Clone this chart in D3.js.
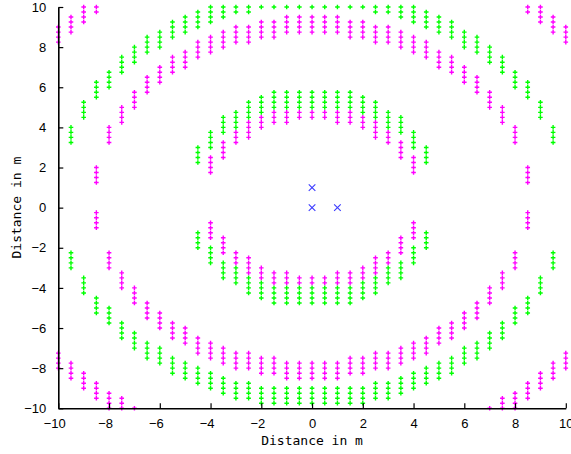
<!DOCTYPE html>
<html>
<head>
<meta charset="utf-8">
<script src="https://cdn.jsdelivr.net/npm/d3@7"></script>
<style>
  body { margin: 0; background: #fff; }
  text { font-family: "Liberation Sans", Arial, sans-serif; }
</style>
</head>
<body>
<svg id="chart" width="571" height="454"></svg>
<script>
// ---- data ----------------------------------------------------------
const xTicks = [-10, -8, -6, -4, -2, 0, 2, 4, 6, 8, 10];
const yTicks = [-10, -8, -6, -4, -2, 0, 2, 4, 6, 8, 10];

// green points, one entry per column: [x, [y values]]
const greenCols = [
  [-9.5, [4, 3.75, 3.5, 3.25, -2.25, -2.5, -2.75, -3]],
  [-9,   [5.25, 5, 4.75, 4.5, -3.5, -3.75, -4, -4.25]],
  [-8.5, [6.25, 6, 5.75, 5.5, -4.5, -4.75, -5, -5.25]],
  [-8,   [6.75, 6.5, 6.25, 6, -5, -5.25, -5.5, -5.75]],
  [-7.5, [7.5, 7.25, 7, 6.75, -5.75, -6, -6.25, -6.5]],
  [-7,   [8, 7.75, 7.5, 7.25, -6.25, -6.5, -6.75, -7]],
  [-6.5, [8.5, 8.25, 8, 7.75, -6.75, -7, -7.25, -7.5]],
  [-6,   [8.75, 8.5, 8.25, 8, -7, -7.25, -7.5, -7.75]],
  [-5.5, [9.25, 9, 8.75, 8.5, -7.5, -7.75, -8, -8.25]],
  [-5,   [9.5, 9.25, 9, 8.75, -7.75, -8, -8.25, -8.5]],
  [-4.5, [9.75, 9.5, 9.25, 9, 3, 2.75, 2.5, 2.25, -1.25, -1.5, -1.75, -2, -8, -8.25, -8.5, -8.75]],
  [-4,   [10, 9.75, 9.5, 9.25, 3.75, 3.5, 3.25, 3, -2, -2.25, -2.5, -2.75, -8.25, -8.5, -8.75, -9]],
  [-3.5, [10, 9.75, 9.5, 4.5, 4.25, 4, 3.75, -2.75, -3, -3.25, -3.5, -8.5, -8.75, -9, -9.25]],
  [-3,   [10, 9.75, 4.75, 4.5, 4.25, 4, -3, -3.25, -3.5, -3.75, -8.75, -9, -9.25, -9.5]],
  [-2.5, [10, 9.75, 5.25, 5, 4.75, 4.5, -3.5, -3.75, -4, -4.25, -8.75, -9, -9.25, -9.5]],
  [-2,   [10, 5.5, 5.25, 5, 4.75, -3.75, -4, -4.25, -4.5, -9, -9.25, -9.5, -9.75]],
  [-1.5, [10, 5.75, 5.5, 5.25, 5, -4, -4.25, -4.5, -4.75, -9, -9.25, -9.5, -9.75]],
  [-1,   [10, 5.75, 5.5, 5.25, 5, -4, -4.25, -4.5, -4.75, -9, -9.25, -9.5, -9.75]],
  [-0.5, [10, 5.75, 5.5, 5.25, 5, -4, -4.25, -4.5, -4.75, -9, -9.25, -9.5, -9.75]],
  [0,    [10, 5.75, 5.5, 5.25, 5, -4, -4.25, -4.5, -4.75, -9, -9.25, -9.5, -9.75]],
  [0.5,  [10, 5.75, 5.5, 5.25, 5, -4, -4.25, -4.5, -4.75, -9, -9.25, -9.5, -9.75]],
  [1,    [10, 5.75, 5.5, 5.25, 5, -4, -4.25, -4.5, -4.75, -9, -9.25, -9.5, -9.75]],
  [1.5,  [10, 5.75, 5.5, 5.25, 5, -4, -4.25, -4.5, -4.75, -9, -9.25, -9.5, -9.75]],
  [2,    [10, 5.5, 5.25, 5, 4.75, -3.75, -4, -4.25, -4.5, -9, -9.25, -9.5, -9.75]],
  [2.5,  [10, 9.75, 5.25, 5, 4.75, 4.5, -3.5, -3.75, -4, -4.25, -8.75, -9, -9.25, -9.5]],
  [3,    [10, 9.75, 4.75, 4.5, 4.25, 4, -3, -3.25, -3.5, -3.75, -8.75, -9, -9.25, -9.5]],
  [3.5,  [10, 9.75, 9.5, 4.5, 4.25, 4, 3.75, -2.75, -3, -3.25, -3.5, -8.5, -8.75, -9, -9.25]],
  [4,    [10, 9.75, 9.5, 9.25, 3.75, 3.5, 3.25, 3, -2, -2.25, -2.5, -2.75, -8.25, -8.5, -8.75, -9]],
  [4.5,  [9.75, 9.5, 9.25, 9, 3, 2.75, 2.5, 2.25, -1.25, -1.5, -1.75, -2, -8, -8.25, -8.5, -8.75]],
  [5,    [9.5, 9.25, 9, 8.75, -7.75, -8, -8.25, -8.5]],
  [5.5,  [9.25, 9, 8.75, 8.5, -7.5, -7.75, -8, -8.25]],
  [6,    [8.75, 8.5, 8.25, 8, -7, -7.25, -7.5, -7.75]],
  [6.5,  [8.5, 8.25, 8, 7.75, -6.75, -7, -7.25, -7.5]],
  [7,    [8, 7.75, 7.5, 7.25, -6.25, -6.5, -6.75, -7]],
  [7.5,  [7.5, 7.25, 7, 6.75, -5.75, -6, -6.25, -6.5]],
  [8,    [6.75, 6.5, 6.25, 6, -5, -5.25, -5.5, -5.75]],
  [8.5,  [6.25, 6, 5.75, 5.5, -4.5, -4.75, -5, -5.25]],
  [9,    [5.25, 5, 4.75, 4.5, -3.5, -3.75, -4, -4.25]],
  [9.5,  [4, 3.75, 3.5, 3.25, -2.25, -2.5, -2.75, -3]]
];

// magenta points, one entry per column: [x, [y values]]
const magentaCols = [
  [-10,  [9, 8.75, 8.5, 8.25, -7.25, -7.5, -7.75, -8]],
  [-9.5, [9.5, 9.25, 9, 8.75, -7.75, -8, -8.25, -8.5]],
  [-9,   [10, 9.75, 9.5, 9.25, -8.25, -8.5, -8.75, -9]],
  [-8.5, [10, 9.75, 2, 1.75, 1.5, 1.25, -0.25, -0.5, -0.75, -1, -8.75, -9, -9.25, -9.5]],
  [-8,   [4, 3.75, 3.5, 3.25, -2.25, -2.5, -2.75, -3, -9.25, -9.5, -9.75, -10]],
  [-7.5, [5, 4.75, 4.5, 4.25, -3.25, -3.5, -3.75, -4, -9.5, -9.75, -10]],
  [-7,   [5.75, 5.5, 5.25, 5, -4, -4.25, -4.5, -4.75, -10]],
  [-6.5, [6.5, 6.25, 6, 5.75, -4.75, -5, -5.25, -5.5]],
  [-6,   [7, 6.75, 6.5, 6.25, -5.25, -5.5, -5.75, -6]],
  [-5.5, [7.5, 7.25, 7, 6.75, -5.75, -6, -6.25, -6.5]],
  [-5,   [7.75, 7.5, 7.25, 7, -6, -6.25, -6.5, -6.75]],
  [-4.5, [8.25, 8, 7.75, 7.5, -6.5, -6.75, -7, -7.25]],
  [-4,   [8.5, 8.25, 8, 7.75, 2.5, 2.25, 2, 1.75, -0.75, -1, -1.25, -1.5, -6.75, -7, -7.25, -7.5]],
  [-3.5, [8.75, 8.5, 8.25, 8, 3.25, 3, 2.75, 2.5, -1.5, -1.75, -2, -2.25, -7, -7.25, -7.5, -7.75]],
  [-3,   [9, 8.75, 8.5, 8.25, 3.75, 3.5, 3.25, -2.25, -2.5, -2.75, -7.25, -7.5, -7.75, -8]],
  [-2.5, [9, 8.75, 8.5, 8.25, 4.25, 4, 3.75, 3.5, -2.5, -2.75, -3, -3.25, -7.25, -7.5, -7.75, -8]],
  [-2,   [9.25, 9, 8.75, 8.5, 4.5, 4.25, 4, -3, -3.25, -3.5, -7.5, -7.75, -8, -8.25]],
  [-1.5, [9.25, 9, 8.75, 8.5, 4.75, 4.5, 4.25, -3.25, -3.5, -3.75, -7.5, -7.75, -8, -8.25]],
  [-1,   [9.5, 9.25, 9, 8.75, 4.75, 4.5, 4.25, -3.25, -3.5, -3.75, -7.75, -8, -8.25, -8.5]],
  [-0.5, [9.5, 9.25, 9, 8.75, 4.75, 4.5, -3.5, -3.75, -7.75, -8, -8.25, -8.5]],
  [0,    [9.5, 9.25, 9, 8.75, 4.75, 4.5, -3.5, -3.75, -7.75, -8, -8.25, -8.5]],
  [0.5,  [9.5, 9.25, 9, 8.75, 4.75, 4.5, -3.5, -3.75, -7.75, -8, -8.25, -8.5]],
  [1,    [9.5, 9.25, 9, 8.75, 4.75, 4.5, 4.25, -3.25, -3.5, -3.75, -7.75, -8, -8.25, -8.5]],
  [1.5,  [9.25, 9, 8.75, 8.5, 4.75, 4.5, 4.25, -3.25, -3.5, -3.75, -7.5, -7.75, -8, -8.25]],
  [2,    [9.25, 9, 8.75, 8.5, 4.5, 4.25, 4, -3, -3.25, -3.5, -7.5, -7.75, -8, -8.25]],
  [2.5,  [9, 8.75, 8.5, 8.25, 4.25, 4, 3.75, 3.5, -2.5, -2.75, -3, -3.25, -7.25, -7.5, -7.75, -8]],
  [3,    [9, 8.75, 8.5, 8.25, 3.75, 3.5, 3.25, -2.25, -2.5, -2.75, -7.25, -7.5, -7.75, -8]],
  [3.5,  [8.75, 8.5, 8.25, 8, 3.25, 3, 2.75, 2.5, -1.5, -1.75, -2, -2.25, -7, -7.25, -7.5, -7.75]],
  [4,    [8.5, 8.25, 8, 7.75, 2.5, 2.25, 2, 1.75, -0.75, -1, -1.25, -1.5, -6.75, -7, -7.25, -7.5]],
  [4.5,  [8.25, 8, 7.75, 7.5, -6.5, -6.75, -7, -7.25]],
  [5,    [7.75, 7.5, 7.25, 7, -6, -6.25, -6.5, -6.75]],
  [5.5,  [7.5, 7.25, 7, 6.75, -5.75, -6, -6.25, -6.5]],
  [6,    [7, 6.75, 6.5, 6.25, -5.25, -5.5, -5.75, -6]],
  [6.5,  [6.5, 6.25, 6, 5.75, -4.75, -5, -5.25, -5.5]],
  [7,    [5.75, 5.5, 5.25, 5, -4, -4.25, -4.5, -4.75, -10]],
  [7.5,  [5, 4.75, 4.5, 4.25, -3.25, -3.5, -3.75, -4, -9.5, -9.75, -10]],
  [8,    [4, 3.75, 3.5, 3.25, -2.25, -2.5, -2.75, -3, -9.25, -9.5, -9.75, -10]],
  [8.5,  [10, 9.75, 2, 1.75, 1.5, 1.25, -0.25, -0.5, -0.75, -1, -8.75, -9, -9.25, -9.5]],
  [9,    [10, 9.75, 9.5, 9.25, -8.25, -8.5, -8.75, -9]],
  [9.5,  [9.5, 9.25, 9, 8.75, -7.75, -8, -8.25, -8.5]],
  [10,   [9, 8.75, 8.5, 8.25, -7.25, -7.5, -7.75, -8]]
];

// blue "x" markers
const sourceX = [0, 1, 0];
const sourceY = [0, 0, 1];

const xLabel = "Distance in m";
const yLabel = "Distance in m";

// ---- layout ---------------------------------------------------------
const width = 571, height = 454;
const margin = { top: 7, right: 5.2, bottom: 45.7, left: 58.3 };

const svg = d3.select("#chart");

const xScale = d3.scaleLinear()
  .domain([-10, 10])
  .range([margin.left, width - margin.right]);

const yScale = d3.scaleLinear()
  .domain([-10, 10])
  .range([height - margin.bottom, margin.top]);

const toPoints = cols => cols.flatMap(([x, ys]) => ys.map(y => ({ x, y })));

const plus = "M-2.3,0H2.3M0,-2.3V2.3";
const cross = "M-3.3,-3.3L3.3,3.3M-3.3,3.3L3.3,-3.3";

// ---- markers ----------------------------------------------------------
svg.append("g")
  .selectAll("path")
  .data(toPoints(greenCols))
  .join("path")
  .attr("d", plus)
  .attr("transform", d => `translate(${xScale(d.x)},${yScale(d.y)})`)
  .attr("stroke", "#00ff00")
  .attr("stroke-width", 1.4)
  .attr("fill", "none");

svg.append("g")
  .selectAll("path")
  .data(toPoints(magentaCols))
  .join("path")
  .attr("d", plus)
  .attr("transform", d => `translate(${xScale(d.x)},${yScale(d.y)})`)
  .attr("stroke", "#ff00ff")
  .attr("stroke-width", 1.4)
  .attr("fill", "none");

svg.append("g")
  .selectAll("path")
  .data(sourceX.map((x, i) => ({ x, y: sourceY[i] })))
  .join("path")
  .attr("d", cross)
  .attr("transform", d => `translate(${xScale(d.x)},${yScale(d.y)})`)
  .attr("stroke", "#3a3aff")
  .attr("stroke-width", 1.1)
  .attr("fill", "none");

// ---- axes -------------------------------------------------------------
const fmt = d3.format("d");

const xAxis = d3.axisBottom(xScale)
  .tickValues(xTicks)
  .tickSizeInner(-5)
  .tickSizeOuter(0)
  .tickPadding(10)
  .tickFormat(fmt);

const yAxis = d3.axisLeft(yScale)
  .tickValues(yTicks)
  .tickSizeInner(-5)
  .tickSizeOuter(0)
  .tickPadding(12)
  .tickFormat(fmt);

const gx = svg.append("g")
  .attr("transform", `translate(0,${height - margin.bottom})`)
  .call(xAxis);

const gy = svg.append("g")
  .attr("transform", `translate(${margin.left},0)`)
  .call(yAxis);

[gx, gy].forEach(g => {
  g.select(".domain").attr("stroke", "#000").attr("stroke-width", 1.6);
  g.selectAll(".tick line").attr("stroke", "#000").attr("stroke-width", 1.2);
  g.selectAll(".tick text")
    .attr("fill", "#000")
    .style("font-size", "13px")
    .style("font-family", "'Liberation Sans', Arial, sans-serif");
});

// negative x labels sit with their digits over the tick
gx.selectAll(".tick text")
  .attr("dx", d => d < 0 ? -4 : 0);

// ---- axis titles ------------------------------------------------------
svg.append("text")
  .attr("x", (margin.left + width - margin.right) / 2)
  .attr("y", 445)
  .attr("text-anchor", "middle")
  .style("font-family", "'DejaVu Sans Mono', monospace")
  .style("font-size", "13px")
  .text(xLabel);

svg.append("text")
  .attr("transform", `translate(21,${(margin.top + height - margin.bottom) / 2}) rotate(-90)`)
  .attr("text-anchor", "middle")
  .style("font-family", "'DejaVu Sans Mono', monospace")
  .style("font-size", "13px")
  .text(yLabel);
</script>
</body>
</html>
